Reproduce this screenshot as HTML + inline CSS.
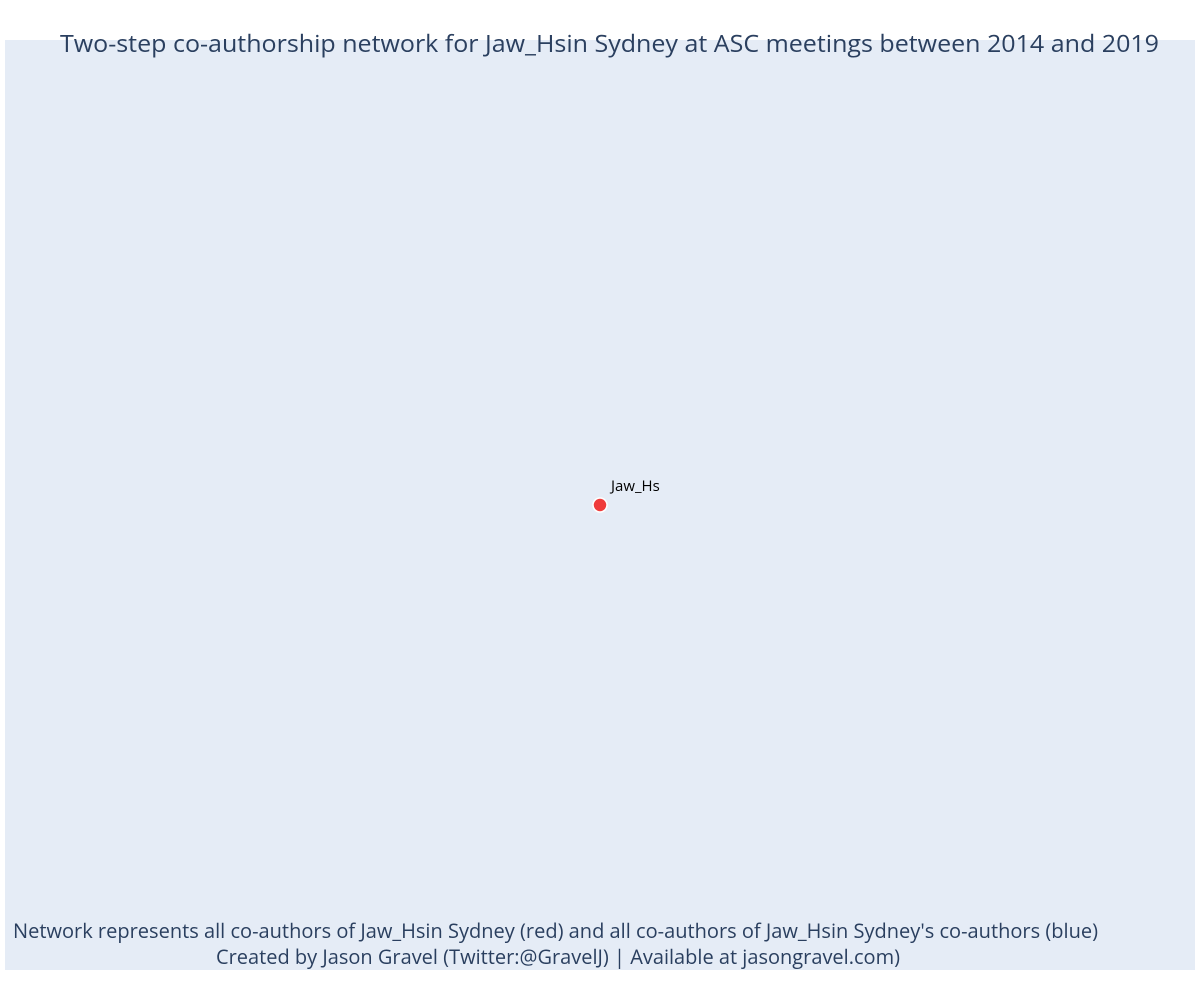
<!DOCTYPE html>
<html><head><meta charset="utf-8"><style>
body{margin:0;background:#fff;width:1200px;height:1000px;overflow:hidden}
svg{display:block;font-family:"Open Sans","Liberation Sans",sans-serif}
</style></head><body>
<svg id="chart" width="1200" height="1000">
<rect x="5" y="40" width="1190" height="930" fill="#e5ecf6"/>
<text x="60" y="52" font-size="24" textLength="1099" lengthAdjust="spacingAndGlyphs" fill="#2a3f5f">Two-step co-authorship network for Jaw_Hsin Sydney at ASC meetings between 2014 and 2019</text>
<g id="marks"></g>
<text x="13" y="938" font-size="20" textLength="1085" lengthAdjust="spacingAndGlyphs" fill="#2a3f5f">Network represents all co-authors of Jaw_Hsin Sydney (red) and all co-authors of Jaw_Hsin Sydney's co-authors (blue)</text>
<text x="216" y="964" font-size="20" textLength="684" lengthAdjust="spacingAndGlyphs" fill="#2a3f5f">Created by Jason Gravel (Twitter:@GravelJ) | Available at jasongravel.com)</text>
</svg>
<script>
const nodeLabels = ["Jaw_Hs"];
const nodeX = [0];
const nodeY = [0];
const nodeColors = ["#ef3b3b"];
function sx(v){return 600 + v*500;}
function sy(v){return 505 - v*430;}
const g = document.getElementById('marks');
const ns = "http://www.w3.org/2000/svg";
nodeLabels.forEach((lab,i)=>{
  const c = document.createElementNS(ns,'circle');
  c.setAttribute('cx',sx(nodeX[i]));c.setAttribute('cy',sy(nodeY[i]));c.setAttribute('r',7);
  c.setAttribute('fill',nodeColors[i]);c.setAttribute('stroke','#fff');c.setAttribute('stroke-width',1.5);
  
  
  g.appendChild(c);
  const t = document.createElementNS(ns,'text');
  t.setAttribute('x',sx(nodeX[i])+11);t.setAttribute('y',sy(nodeY[i])-14);
  t.setAttribute('font-size',15);t.setAttribute('fill','#000');
  t.textContent = lab;
  
  
  g.appendChild(t);
});
</script>
</body></html>
